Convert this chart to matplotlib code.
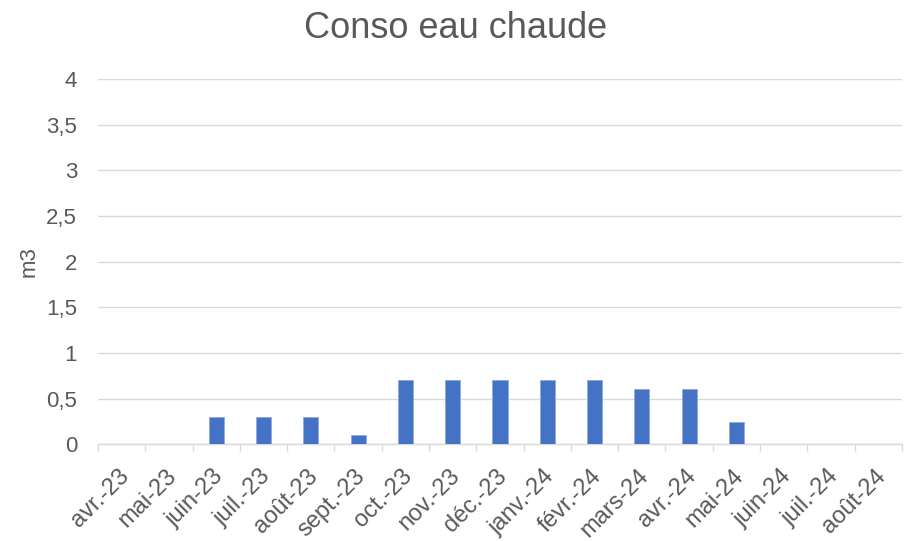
import numpy as np
import matplotlib.pyplot as plt
import matplotlib.transforms as mtrans
from matplotlib.ticker import FuncFormatter

plt.rcParams['font.family'] = ['Liberation Sans', 'DejaVu Sans']

mois = ['avr.-23', 'mai-23', 'juin-23', 'juil.-23', 'août-23', 'sept.-23', 'oct.-23',
        'nov.-23', 'déc.-23', 'janv.-24', 'févr.-24', 'mars-24', 'avr.-24', 'mai-24',
        'juin-24', 'juil.-24', 'août-24']
conso = [0, 0, 0.3, 0.3, 0.3, 0.1, 0.7, 0.7, 0.7, 0.7, 0.7, 0.6, 0.6, 0.24, 0, 0, 0]
yticks = [0, 0.5, 1, 1.5, 2, 2.5, 3, 3.5, 4]

gris = '#595959'
fig = plt.figure(figsize=(9.11, 5.41), dpi=100)
ax = fig.add_axes([0.1076, 0.179, 0.8824, 0.675])

x = np.arange(len(mois))
ax.bar(x, conso, width=0.32, color='#4472c4', edgecolor='#8faadc', linewidth=0.6, zorder=3)

ax.set_xlim(-0.5, len(mois) - 0.5)
ax.set_ylim(0, 4)
ax.set_yticks(yticks)
ax.yaxis.set_major_formatter(FuncFormatter(lambda v, p: ('%g' % v).replace('.', ',')))
ax.grid(axis='y', color='#d9d9d9', linewidth=1, zorder=0)

ax.set_xticks(x)
ax.set_xticklabels(mois, rotation=45, ha='right', rotation_mode='anchor')
ax.set_xticks(np.arange(len(mois) + 1) - 0.5, minor=True)
ax.tick_params(axis='x', which='major', length=0, pad=15, labelsize=17, colors=gris)
ax.tick_params(axis='x', which='minor', length=5, color='#d9d9d9', width=1)
ax.tick_params(axis='y', length=0, pad=15, labelsize=16, colors=gris)

# decaler un peu les etiquettes vers la gauche
decal = mtrans.ScaledTranslation(-4 / 100, 0, fig.dpi_scale_trans)
for lab in ax.get_xticklabels():
    lab.set_transform(lab.get_transform() + decal)

for s in ['top', 'right', 'left']:
    ax.spines[s].set_visible(False)
ax.spines['bottom'].set_color('#d9d9d9')
ax.spines['bottom'].set_linewidth(1)

ax.set_ylabel('m3', fontsize=16, color=gris, labelpad=5)
fig.text(0.5, 0.948, 'Conso eau chaude', ha='center', va='center', fontsize=26, color=gris)

fig.savefig('out.png', dpi=100)
